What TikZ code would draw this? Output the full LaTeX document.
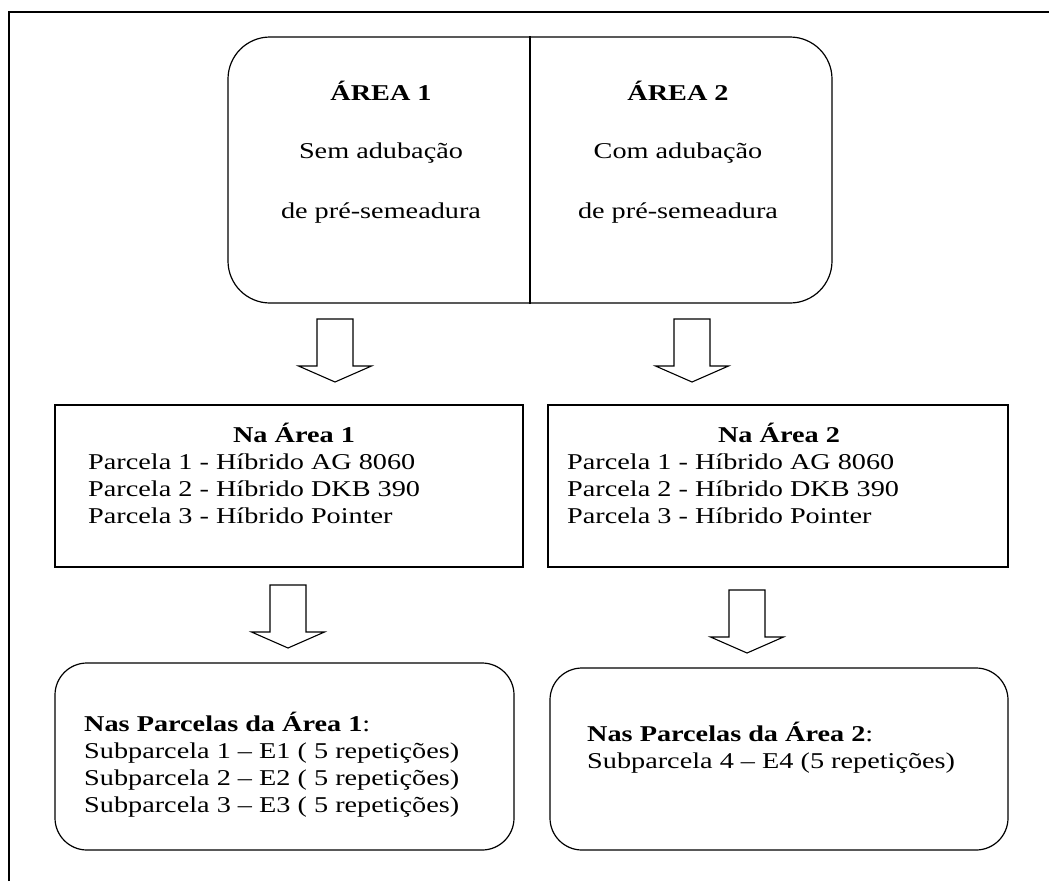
\documentclass[tikz,border=0pt]{standalone}
\usepackage{fontspec}
\setmainfont{Liberation Serif}[FakeStretch=1.25]
\usetikzlibrary{positioning}

\begin{document}
\begin{tikzpicture}[x=1pt, y=-1pt,
    font=\fontsize{22.6}{27}\selectfont,
    box/.style={draw, line width=1.2pt, inner sep=0pt},
    roundbox/.style={box, rounded corners=32pt},
    txt/.style={anchor=base west, inner sep=0pt},
    ctr/.style={anchor=base, inner sep=0pt},
    downarr/.pic={\draw[line width=1.1pt, fill=white] (-18,0) -- (-18,47) -- (-36.5,47) -- (0,63) -- (36.5,47) -- (18,47) -- (18,0) -- cycle;}]
    \useasboundingbox (0,0) rectangle (1049,881);
    % frame
    \draw[line width=1.7pt] (9,881) -- (9,12) -- (1049,12);

    % the two areas
    \node[box, rounded corners=42pt, minimum width=604pt, minimum height=266pt] (areas) at (530,170) {};
    \draw[line width=1.2pt] (areas.north) -- (areas.south);
    \node[ctr] (ar1) at (381,100) {\textbf{ÁREA 1}};
    \node[ctr] (sem) at (381,158) {Sem adubação};
    \node[ctr] (pre1) at (381,218) {de pré-semeadura};
    \node[ctr] (ar2) at (678,100) {\textbf{ÁREA 2}};
    \node[ctr] (com) at (678,158) {Com adubação};
    \node[ctr] (pre2) at (678,218) {de pré-semeadura};

    % plots
    \pic at (335,319) {downarr};
    \pic at (692,319) {downarr};
    \node[box, minimum width=468pt, minimum height=162pt] (na1) at (289,486) {};
    \node[box, minimum width=460pt, minimum height=162pt] (na2) at (778,486) {};
    \node[ctr] (na1t) at (294,442) {\textbf{Na Área 1}};
    \node[txt] (p11) at (88,469) {Parcela 1 - Híbrido AG 8060};
    \node[txt] (p12) at (88,496) {Parcela 2 - Híbrido DKB 390};
    \node[txt] (p13) at (88,523) {Parcela 3 - Híbrido Pointer};
    \node[ctr] (na2t) at (779,442) {\textbf{Na Área 2}};
    \node[txt] (p21) at (567,469) {Parcela 1 - Híbrido AG 8060};
    \node[txt] (p22) at (567,496) {Parcela 2 - Híbrido DKB 390};
    \node[txt] (p23) at (567,523) {Parcela 3 - Híbrido Pointer};

    % subplots
    \pic at (288,585) {downarr};
    \pic at (747,590) {downarr};
    \node[roundbox, minimum width=459pt, minimum height=187pt] (np1) at (284.5,756.5) {};
    \node[roundbox, minimum width=458pt, minimum height=182pt] (np2) at (779,759) {};
    \node[txt] (np1t) at (84,731) {\textbf{Nas Parcelas da Área 1}:};
    \node[txt] (s1) at (84,758) {Subparcela 1 – E1 ( 5 repetições)};
    \node[txt] (s2) at (84,785) {Subparcela 2 – E2 ( 5 repetições)};
    \node[txt] (s3) at (84,812) {Subparcela 3 – E3 ( 5 repetições)};
    \node[txt] (np2t) at (587,741) {\textbf{Nas Parcelas da Área 2}:};
    \node[txt] (s4) at (587,768) {Subparcela 4 – E4 (5 repetições)};
\end{tikzpicture}
\end{document}
